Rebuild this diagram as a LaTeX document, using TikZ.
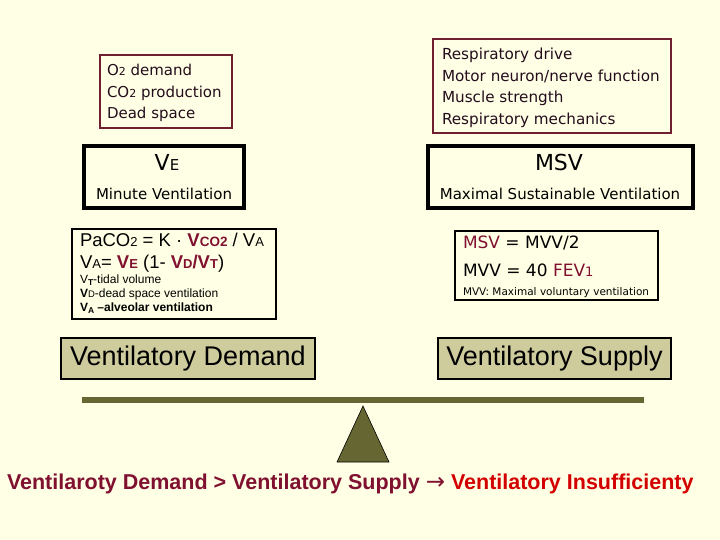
\documentclass[tikz,border=0pt]{standalone}
\usepackage{fontspec}
\setmainfont{Liberation Sans}
\newfontfamily\verd{DejaVu Sans}
\definecolor{bg}{RGB}{255,255,229}
\definecolor{maroon}{RGB}{128,16,48}
\definecolor{boxmaroon}{RGB}{110,32,48}
\definecolor{darktext}{RGB}{35,12,28}
\definecolor{olive}{RGB}{102,102,51}
\definecolor{pantan}{RGB}{206,203,157}
\definecolor{alertred}{RGB}{210,0,0}
\newcommand{\fs}[1]{\fontsize{#1}{#1}\selectfont}
\begin{document}
\begin{tikzpicture}[x=1pt,y=-1pt,
  every node/.style={inner sep=0pt, outer sep=0pt},
  factorbox/.style={draw=boxmaroon, line width=2pt, rectangle},
  titlebox/.style={draw=black, line width=3.5pt, rectangle},
  formbox/.style={draw=black, line width=1.8pt, rectangle},
  panbox/.style={draw=black, line width=1.5pt, fill=pantan, rectangle},
  txt/.style={anchor=base west},
  ctxt/.style={anchor=base},
]
\fill[bg] (0,0) rectangle (720,540);
\useasboundingbox (0,0) rectangle (720,540);

% demand factors
\node[factorbox, minimum width=132pt, minimum height=73pt] (demandfactors) at (166,91.5) {};
\node[txt, text=darktext, font={\verd\fs{15}}] (o2) at (107,76) {O{\fs{11}2} demand};
\node[txt, text=darktext, font={\verd\fs{15}}] (co2) at (107,98) {CO{\fs{11}2} production};
\node[txt, text=darktext, font={\verd\fs{15}}] (dead) at (107,119) {Dead space};

% supply factors
\node[factorbox, minimum width=238pt, minimum height=94pt] (supplyfactors) at (552,86) {};
\node[txt, text=darktext, font={\verd\fs{15.2}}] (drive) at (442,60) {Respiratory drive};
\node[txt, text=darktext, font={\verd\fs{15.2}}] (motor) at (442,82) {Motor neuron/nerve function};
\node[txt, text=darktext, font={\verd\fs{15.2}}] (muscle) at (442,103) {Muscle strength};
\node[txt, text=darktext, font={\verd\fs{15.2}}] (mech) at (442,125) {Respiratory mechanics};

% VE box
\node[titlebox, minimum width=160pt, minimum height=62pt] (vebox) at (164,177) {};
\node[ctxt, font={\verd\fs{22}}] (ve) at (167,171) {V{\fs{15}E}};
\node[ctxt, font={\verd\fs{15}}] (vename) at (164,200) {Minute Ventilation};

% MSV box
\node[titlebox, minimum width=265pt, minimum height=62pt] (msvbox) at (560.5,177) {};
\node[ctxt, font={\verd\fs{22}}] (msv) at (559,171) {MSV};
\node[ctxt, font={\verd\fs{15}}] (msvname) at (560,200) {Maximal Sustainable Ventilation};

% formula box
\node[formbox, minimum width=204pt, minimum height=90pt] (formdemand) at (174,274) {};
\node[txt, font=\fs{18.5}] (paco2) at (80,247) {PaCO{\fs{13}2} = K · {\color{maroon}\bfseries V{\fs{13.5}CO2}} / V{\fs{13}A}};
\node[txt, font=\fs{18.5}] (va) at (80,268.5) {V{\fs{13}A}= {\color{maroon}\bfseries V{\fs{13}E}} (1- {\color{maroon}\bfseries V{\fs{13}D}/V{\fs{13}T}})};
\node[txt, font=\fs{12}] (vt) at (80,283.5) {V\raisebox{-2pt}{\fs{8.5}\bfseries T}-tidal volume};
\node[txt, font=\fs{12}] (vd) at (80,297.5) {{\bfseries V}{\fs{9.5}D}-dead space ventilation};
\node[txt, font=\fs{12}] (valv) at (80,311.5) {\bfseries V\raisebox{-2pt}{\fs{8.5}A} –alveolar ventilation};

% MSV formula box
\node[formbox, minimum width=203pt, minimum height=69pt] (formsupply) at (556.5,265.5) {};
\node[txt, font={\verd\fs{17}}] (msveq) at (463,248) {{\color{maroon}MSV} = MVV/2};
\node[txt, font={\verd\fs{17}}] (mvveq) at (463,276) {MVV = 40 {\color{maroon}FEV{\fs{13}1}}};
\node[txt, font={\verd\fs{10.5}}] (mvvdef) at (463,295) {MVV: Maximal voluntary ventilation};

% pans
\node[panbox, minimum width=254pt, minimum height=41pt, font=\fs{27}] (demand) at (188,358.5) {Ventilatory Demand};
\node[panbox, minimum width=233pt, minimum height=41pt, font=\fs{27}] (supply) at (554.5,358.5) {Ventilatory Supply};

% balance
\node[fill=olive, minimum width=562pt, minimum height=6pt] (beam) at (363,400) {};
\coordinate (apex) at (363,406);
\coordinate (baseL) at (337,462);
\coordinate (baseR) at (389,462);
\filldraw[fill=olive, draw=black, line width=0.6pt] (apex) -- (baseL) -- (baseR) -- cycle;

% conclusion
\node[txt, font={\bfseries\fs{21.5}}] (concl) at (7,489) {{\color{maroon}Ventilaroty Demand > Ventilatory Supply {\verd\mdseries\fs{23}→} }{\color{alertred}Ventilatory Insufficienty}};
\end{tikzpicture}
\end{document}
